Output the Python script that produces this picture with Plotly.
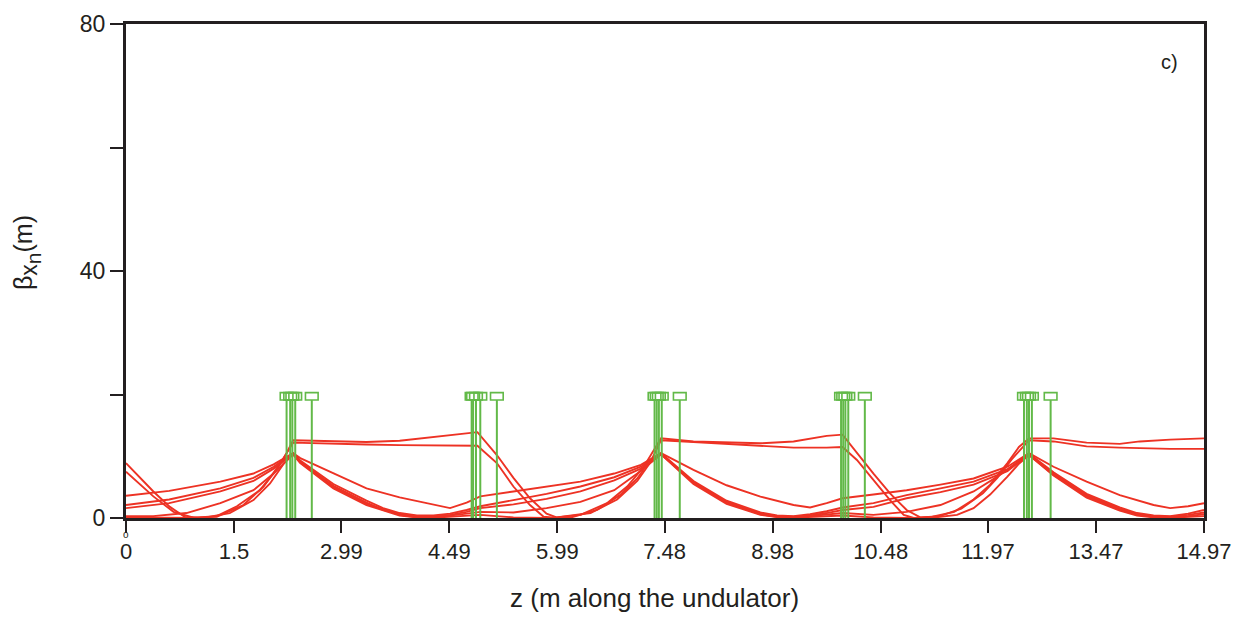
import plotly.graph_objects as go

# ---------------- data ----------------
x_tick_vals = [0, 1.5, 2.99, 4.49, 5.99, 7.48, 8.98, 10.48, 11.97, 13.47, 14.97]
x_tick_text = ["0", "1.5", "2.99", "4.49", "5.99", "7.48", "8.98", "10.48", "11.97", "13.47", "14.97"]
y_tick_vals = [0, 20, 40, 60, 80]
y_tick_text = ["0", "", "40", "", "80"]

# plateau-type beta curves
pu_z = [0.0, 0.38, 0.61, 0.82, 1.0, 1.26, 1.54, 1.86, 2.09, 2.23, 2.32, 2.88, 3.34, 3.80, 4.27, 4.6, 4.88,
        5.15, 5.38, 5.61, 5.84, 5.98, 6.31, 6.68, 6.96, 7.19, 7.33, 7.43, 7.88, 8.34, 8.81, 9.27, 9.73, 9.95,
        10.15, 10.38, 10.61, 10.84, 11.03, 11.2, 11.5, 11.77, 12.0, 12.24, 12.4, 12.54, 12.88, 13.34, 13.8,
        14.08, 14.5, 14.97]
pu_b = [8.9, 4.3, 1.8, 0.15, 0.1, 0.3, 1.9, 4.5, 7.8, 10.5, 12.6, 12.4, 12.3, 12.5, 13.1, 13.5, 13.9,
        10.2, 6.5, 3.2, 0.7, 0.1, 0.5, 2.4, 5.1, 8.3, 11.0, 12.9, 12.4, 12.2, 12.1, 12.4, 13.3, 13.5,
        10.5, 7.2, 4.0, 1.3, 0.1, 0.2, 1.0, 3.0, 5.4, 8.9, 11.5, 12.9, 12.9, 12.2, 12.0,
        12.4, 12.7, 12.9]

pl_z = [0.0, 0.38, 0.66, 0.94, 1.26, 1.63, 1.91, 2.14, 2.32, 2.88, 3.34, 3.80, 4.27, 4.88, 5.15, 5.38,
        5.61, 5.80, 5.95, 6.45, 6.82, 7.1, 7.28, 7.43, 7.88, 8.34, 8.81, 9.27, 9.73, 9.95, 10.15, 10.38,
        10.61, 10.8, 10.94, 11.3, 11.6, 11.9, 12.1, 12.3, 12.54, 12.88, 13.34, 13.8, 14.08, 14.5, 14.97]
pl_b = [7.5, 3.5, 1.0, 0.05, 0.2, 2.1, 5.1, 8.8, 12.2, 12.0, 11.9, 11.8, 11.8, 11.7, 8.9, 5.1,
        2.1, 0.2, 0.05, 0.8, 3.0, 6.0, 9.0, 12.6, 12.3, 12.0, 11.7, 11.4, 11.4, 11.5, 9.4, 6.2,
        2.9, 0.5, 0.0, 0.3, 1.5, 4.0, 6.5, 9.5, 12.6, 12.4, 11.6, 11.4, 11.3, 11.2, 11.2]

# peaked-type beta curves
s_z = [0.0, 0.6, 1.31, 1.77, 2.05, 2.32, 2.42, 2.88, 3.34, 3.80, 4.27, 4.5, 4.73, 4.92, 5.38, 5.84, 6.31,
       6.78, 7.15, 7.43, 7.88, 8.34, 8.81, 9.27, 9.5, 9.73, 9.95, 10.38, 10.84, 11.31, 11.77, 12.24, 12.54,
       12.88, 13.34, 13.8, 14.27, 14.5, 14.75, 14.97]
s_b = [3.6, 4.4, 5.9, 7.2, 8.7, 10.5, 9.7, 7.2, 4.8, 3.35, 2.1, 1.6, 2.5, 3.5, 4.3, 5.1, 5.9,
       7.2, 8.6, 10.5, 7.8, 5.3, 3.45, 2.1, 1.7, 2.4, 3.2, 3.8, 4.5, 5.4, 6.4, 8.3, 10.5,
       8.3, 5.9, 3.7, 2.1, 1.6, 1.9, 2.4]

f_z = [0.0, 0.6, 1.31, 1.77, 2.05, 2.32, 2.42, 2.88, 3.34, 3.57, 3.80, 4.04, 4.27, 4.5, 4.73, 4.92, 5.38,
       5.84, 6.31, 6.78, 7.15, 7.43, 7.88, 8.34, 8.81, 9.04, 9.27, 9.5, 9.73, 9.95, 10.38, 10.84, 11.31,
       11.77, 12.24, 12.54, 12.88, 13.34, 13.8, 14.04, 14.27, 14.5, 14.75, 14.97]
f1_b = [2.1, 3.0, 4.8, 6.5, 8.3, 10.5, 9.3, 5.5, 2.8, 1.6, 0.8, 0.4, 0.4, 0.7, 1.3, 1.9, 2.9,
        3.9, 5.1, 6.6, 8.3, 10.5, 6.0, 2.8, 0.9, 0.4, 0.3, 0.6, 1.1, 1.7, 2.4, 3.7, 4.8,
        5.9, 7.9, 10.4, 7.4, 3.9, 1.7, 0.8, 0.4, 0.3, 0.7, 1.3]
f2_b = [1.6, 2.4, 4.3, 6.0, 8.0, 10.4, 9.1, 5.2, 2.5, 1.3, 0.6, 0.2, 0.2, 0.5, 1.0, 1.6, 2.2,
        3.1, 4.3, 6.1, 8.0, 10.4, 5.8, 2.6, 0.7, 0.3, 0.2, 0.4, 0.8, 1.3, 1.8, 3.2, 4.2,
        5.4, 7.6, 10.3, 7.2, 3.7, 1.5, 0.6, 0.3, 0.2, 0.5, 0.9]

f3_z = [0.0, 0.38, 0.84, 1.31, 1.77, 2.05, 2.32, 2.42, 2.88, 3.34, 3.80, 4.04, 4.27, 4.5, 4.73, 4.92,
        5.38, 5.84, 6.31, 6.78, 7.1, 7.43, 7.88, 8.34, 8.81, 9.04, 9.27, 9.5, 9.73, 9.95, 10.38, 10.84,
        11.31, 11.77, 12.1, 12.54, 12.88, 13.34, 13.8, 14.04, 14.27, 14.5, 14.75, 14.97]
f3_b = [0.3, 0.3, 0.8, 2.4, 4.5, 7.2, 10.3, 9.0, 5.0, 2.3, 0.5, 0.1, 0.1, 0.35, 0.7, 1.0,
        0.9, 1.6, 2.6, 4.5, 7.2, 10.3, 5.7, 2.5, 0.6, 0.2, 0.1, 0.3, 0.6, 0.8, 0.5, 1.0,
        2.1, 4.3, 6.7, 10.2, 7.0, 3.5, 1.3, 0.5, 0.2, 0.15, 0.3, 0.6]

f4_z = [0.0, 0.5, 1.07, 1.44, 1.77, 2.0, 2.19, 2.32, 2.42, 2.88, 3.34, 3.80, 4.04, 4.27, 4.5, 4.73, 4.92,
        5.38, 5.84, 6.17, 6.54, 6.86, 7.1, 7.28, 7.43, 7.88, 8.34, 8.81, 9.04, 9.27, 9.5, 9.73, 9.95,
        10.38, 10.84, 11.2, 11.54, 11.77, 12.0, 12.24, 12.4, 12.54, 12.88, 13.34, 13.8, 14.04, 14.27,
        14.5, 14.75, 14.97]
f4_b = [0.1, 0.0, 0.0, 0.8, 2.9, 5.6, 8.8, 10.3, 8.9, 4.8, 2.1, 0.4, 0.1, 0.05, 0.2, 0.35, 0.5,
        0.1, 0.0, 0.05, 1.3, 3.7, 6.4, 9.4, 10.3, 5.5, 2.3, 0.5, 0.15, 0.05, 0.2, 0.3, 0.4,
        0.1, 0.0, 0.05, 0.5, 1.6, 3.8, 6.7, 8.8, 10.2, 6.9, 3.3, 1.2, 0.4, 0.1,
        0.05, 0.15, 0.3]

# magnet (quadrupole) positions, marker height
magnet_z = [2.23, 2.28, 2.31, 2.35, 2.58,
            4.80, 4.82, 4.86, 4.92, 5.15,
            7.34, 7.37, 7.40, 7.44, 7.69,
            9.93, 9.96, 9.99, 10.03, 10.26,
            12.47, 12.51, 12.54, 12.58, 12.84]
magnet_height = 19.1

# ---------------- style ----------------
RED = "rgb(237,50,36)"
GREEN = "rgb(98,185,72)"
AXIS = "#231f20"
FONT = "Liberation Sans, Arial, sans-serif"
box_half_w = 0.088
box_h = 1.2

fig = go.Figure()

curves = [(pu_z, pu_b), (pl_z, pl_b), (s_z, s_b), (f_z, f1_b), (f_z, f2_b), (f3_z, f3_b), (f4_z, f4_b)]
for zz, bb in curves:
    fig.add_trace(go.Scatter(x=zz, y=bb, mode="lines", line=dict(color=RED, width=1.9),
                             showlegend=False, hoverinfo="skip"))

lx, ly = [], []
for z in magnet_z:
    lx += [z, z, None]
    ly += [0, magnet_height, None]
fig.add_trace(go.Scatter(x=lx, y=ly, mode="lines", line=dict(color=GREEN, width=2),
                         showlegend=False, hoverinfo="skip"))

shapes = []
for z in magnet_z:
    shapes.append(dict(type="rect", xref="x", yref="y", x0=z - box_half_w, x1=z + box_half_w,
                       y0=magnet_height, y1=magnet_height + box_h,
                       line=dict(color=GREEN, width=1.6), fillcolor="rgba(255,255,255,0)"))

ytitle = ("β<sub><span style='font-size:23px'>x</span>"
          "<sub><span style='font-size:21px'>n</span></sub></sub>(m)")

fig.update_layout(
    width=1247, height=617,
    margin=dict(l=126, r=43, t=24, b=99),
    paper_bgcolor="white", plot_bgcolor="white",
    font=dict(family=FONT, color=AXIS),
    shapes=shapes,
    xaxis=dict(range=[0, 14.97], tickvals=x_tick_vals, ticktext=x_tick_text,
               showgrid=False, zeroline=False, showline=True, linecolor=AXIS, linewidth=3,
               mirror=True, ticks="outside", ticklen=12, tickwidth=2, tickcolor=AXIS,
               tickfont=dict(size=22, family=FONT, color=AXIS)),
    yaxis=dict(range=[0, 80], tickvals=y_tick_vals, ticktext=y_tick_text,
               showgrid=False, zeroline=False, showline=True, linecolor=AXIS, linewidth=3,
               mirror=True, ticks="outside", ticklen=13, tickwidth=2, tickcolor=AXIS,
               tickfont=dict(size=23, family=FONT, color=AXIS)),
    annotations=[
        dict(text="z (m along the undulator)", xref="paper", yref="paper", x=0.4907, y=-0.162,
             showarrow=False, font=dict(size=26, family=FONT, color=AXIS), xanchor="center", yanchor="middle"),
        dict(text=ytitle, xref="paper", yref="paper", x=-0.092, y=0.538,
             textangle=-90, showarrow=False, font=dict(size=25, family=FONT, color=AXIS),
             xanchor="center", yanchor="middle"),
        dict(text="c)", xref="paper", yref="paper", x=0.968, y=0.923, showarrow=False,
             font=dict(size=20, family=FONT, color=AXIS), xanchor="center", yanchor="middle"),
        dict(text="o", xref="x", yref="paper", x=0, y=-0.0344, showarrow=False,
             font=dict(size=10, family=FONT, color=AXIS), xanchor="center", yanchor="middle"),
    ],
)

fig.write_html("out.html")
